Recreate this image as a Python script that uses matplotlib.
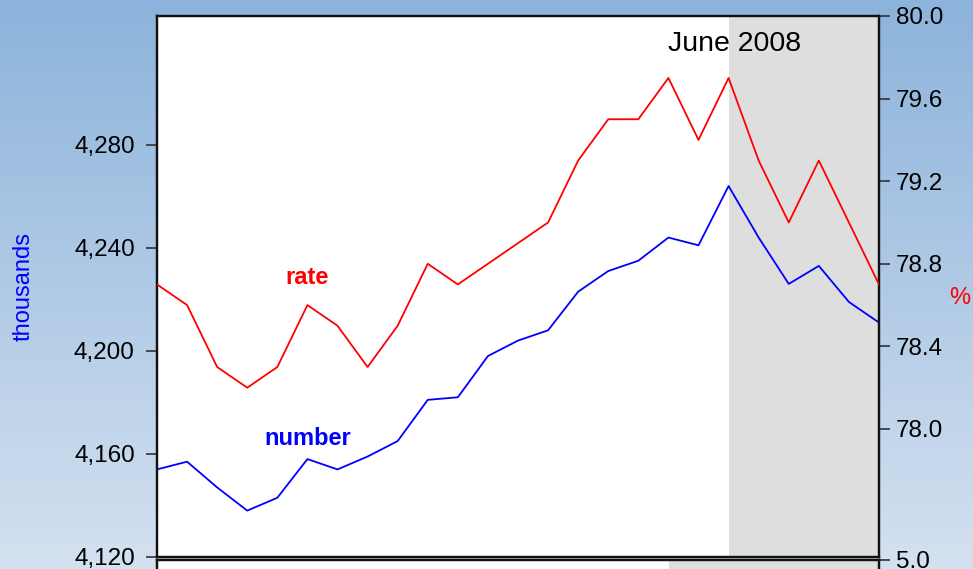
import numpy as np
import matplotlib
matplotlib.use("Agg")
import matplotlib.pyplot as plt
from matplotlib.colors import LinearSegmentedColormap
from matplotlib.ticker import FuncFormatter

plt.rcParams['font.family'] = ['Liberation Sans', 'DejaVu Sans']

# monthly points, Nov 2006 .. Nov 2008 (index 19 = June 2008)
months = list(range(25))
number = [4154, 4157, 4147, 4138, 4143, 4158, 4154, 4159, 4165, 4181,
          4182, 4198, 4204, 4208, 4223, 4231, 4235, 4244, 4241, 4264,
          4244, 4226, 4233, 4219, 4211]
rate = [78.7, 78.6, 78.3, 78.2, 78.3, 78.6, 78.5, 78.3, 78.5, 78.8,
        78.7, 78.8, 78.9, 79.0, 79.3, 79.5, 79.5, 79.7, 79.4, 79.7,
        79.3, 79.0, 79.3, 79.0, 78.7]
june_idx = 19
left_ticks = [4120, 4160, 4200, 4240, 4280]
right_ticks = [78.0, 78.4, 78.8, 79.2, 79.6, 80.0]

fig = plt.figure(figsize=(9.73, 5.69), dpi=100)

# gradient background
bg = fig.add_axes([0, 0, 1, 1], zorder=-10)
cmap = LinearSegmentedColormap.from_list('bg', ['#8cb3db', '#d4e1f0'])
bg.imshow(np.linspace(0, 1, 256).reshape(-1, 1), aspect='auto', cmap=cmap,
          extent=[0, 1, 0, 1])
bg.axis('off')

left, width = 157 / 973, 722 / 973
ax = fig.add_axes([left, 1 - 557 / 569, width, 541 / 569])
ax.set_facecolor('white')
ax.axvspan(june_idx, months[-1], color='#dedede', lw=0, zorder=0)
ax.plot(months, number, color='#0000ff', lw=1.3, zorder=3)
ax.set_xlim(months[0], months[-1])
ax.set_ylim(4120, 4330)
ax.set_xticks([])
ax.set_yticks(left_ticks)
ax.yaxis.set_major_formatter(FuncFormatter(lambda v, p: f'{int(v):,}'))
ax.tick_params(axis='y', direction='out', length=8, width=1.2,
               color='#333333', labelsize=17.5, pad=8)
ax.set_ylabel('thousands', color='#0000ff', fontsize=17, labelpad=28)
for s in ax.spines.values():
    s.set_linewidth(1.6)
    s.set_color('#111111')

ax2 = ax.twinx()
ax2.plot(months, rate, color='#ff0000', lw=1.3, zorder=3)
ax2.set_ylim(77.38, 80.0)
ax2.set_yticks(right_ticks)
ax2.yaxis.set_major_formatter(FuncFormatter(lambda v, p: f'{v:.1f}'))
ax2.tick_params(axis='y', direction='out', length=8, width=1.2,
                color='#333333', labelsize=17.5, pad=4)
ax2.set_ylabel('%', color='#ff0000', fontsize=17, rotation=0, labelpad=12)
for s in ax2.spines.values():
    s.set_linewidth(1.6)
    s.set_color('#111111')

ax.text(5, 4228.5, 'rate', color='#ff0000', fontsize=17, fontweight='bold',
        ha='center', va='center')
ax.text(5, 4166, 'number', color='#0000ff', fontsize=17, fontweight='bold',
        ha='center', va='center')
ax.text(19.2, 4319, 'June 2008', color='black', fontsize=20.5,
        ha='center', va='center')

# next panel peeking in at the bottom
axb = fig.add_axes([left, 1 - 560 / 569 - 0.3, width, 0.3])
axb.set_facecolor('white')
axb.axvspan(0.709, 1.0, color='#dedede', lw=0)
axb.set_xlim(0, 1)
axb.set_ylim(0, 5.0)
axb.set_xticks([])
axb.set_yticks([])
axb2 = axb.twinx()
axb2.set_ylim(0, 5.0)
axb2.set_yticks([5.0])
axb2.yaxis.set_major_formatter(FuncFormatter(lambda v, p: f'{v:.1f}'))
axb2.tick_params(axis='y', direction='out', length=8, width=1.2,
                 color='#333333', labelsize=17.5, pad=4)
for a in (axb, axb2):
    for s in a.spines.values():
        s.set_linewidth(1.6)
        s.set_color('#111111')

fig.savefig('out.png', dpi=100)
